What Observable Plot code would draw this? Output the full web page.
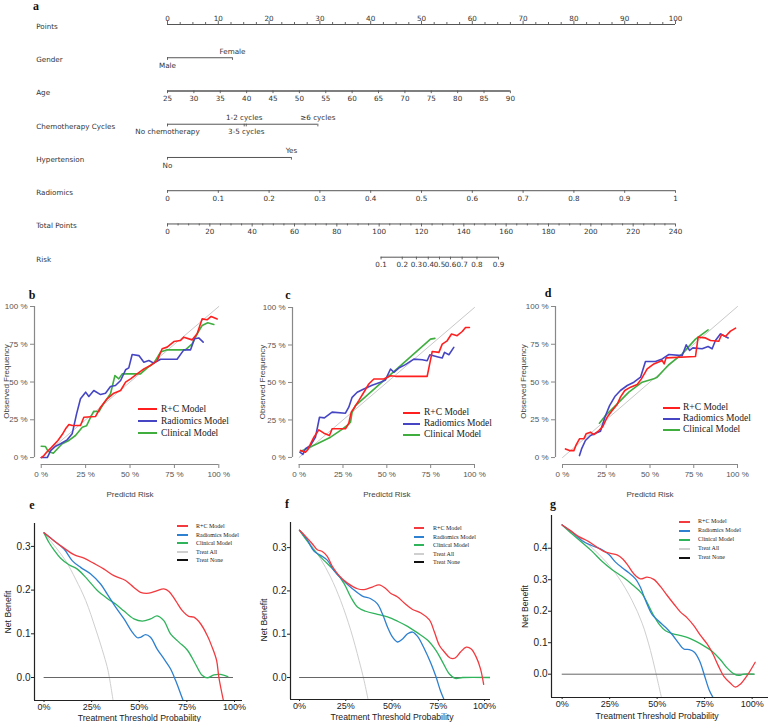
<!DOCTYPE html>
<html><head><meta charset="utf-8">
<script src="https://cdn.jsdelivr.net/npm/d3@7"></script>
<script src="https://cdn.jsdelivr.net/npm/@observablehq/plot@0.6"></script>
<style>
body{margin:0;background:#fff;}
#wrap{position:relative;width:769px;height:722px;overflow:hidden;background:#fff;}
.panel{position:absolute;}
.letter{position:absolute;font-family:"Liberation Serif","DejaVu Serif",serif;font-weight:bold;font-size:12px;color:#111;transform:translate(-50%,-50%);line-height:1;}
.legend{position:absolute;font-family:"Liberation Serif","DejaVu Serif",serif;color:#222;z-index:5;}
.legend .row{display:flex;align-items:center;white-space:nowrap;}
.legend .sw{display:inline-block;flex:none;}
</style></head>
<body><div id="wrap"></div>
<script>
// ================= DATA =================
// ---- Nomogram (panel a) ----
const rowNames = ["Points","Gender","Age","Chemotherapy Cycles","Hypertension","Radiomics","Total Points","Risk"];
const pointsMajor = [0,10,20,30,40,50,60,70,80,90,100];
const genderLevels = ["Male","Female"];
const genderPoints = [0, 12.8];
const ageTicks = [25,30,35,40,45,50,55,60,65,70,75,80,85,90];
const ageMaxPoints = 67.5;
const chemoLevels = ["No chemotherapy","1-2 cycles","3-5 cycles","\u22656 cycles"];
const chemoPoints = [0, 15.1, 15.5, 29.6];
const hyperLevels = ["No","Yes"];
const hyperPoints = [0, 24.4];
const radiomicsTicks = [0,0.1,0.2,0.3,0.4,0.5,0.6,0.7,0.8,0.9,1];
const radiomicsMaxPoints = 100;
const totalTicks = [0,20,40,60,80,100,120,140,160,180,200,220,240];
const totalMax = 240;
const riskLevels = [0.1,0.2,0.3,0.4,0.5,0.6,0.7,0.8,0.9];
const riskTotalPoints = [100.9,110.9,117.6,123.2,128.5,133.7,139.2,146.2,156.4];

// ---- Calibration curves (predicted %, observed %) ----
const calDiagonal = [[0,0],[100,100]];
const calB_RC = [[0,0],[1.5,1.3],[3,3.5],[4.9,5.7],[7.1,8.4],[9.4,11.3],[11.8,15.2],[13.7,19],[15.6,21.9],[17.4,21.2],[22.1,21.2],[24,26.7],[30.6,27.2],[33.4,33.3],[37.1,38.9],[40.9,42.6],[44.7,44.4],[47.5,49.9],[50.3,52.1],[54,55.4],[57.8,58.7],[61.5,60.9],[65.3,64.2],[68.1,72],[70.9,73.1],[74.7,76.8],[78.4,77.5],[80.3,79.7],[85,77.9],[87.8,81.9],[90.6,91.8],[93.4,91.2],[95.7,93.4],[99.1,91.8]];
const calB_Rad = [[0,0],[3.4,0],[5.3,4.6],[8.1,7.5],[10.9,9.1],[14.6,11.7],[17.4,15.7],[19.9,28.9],[22.1,38.9],[25,43.3],[26.8,40.4],[29.6,44.4],[33.4,41.7],[36.2,42.6],[39,47],[41.8,47.7],[44.7,51],[47.5,58.1],[49.3,59.4],[51.2,68.2],[55,67.5],[57.8,63.1],[60.6,64.2],[63.4,62.5],[67.2,65.1],[76.5,65.1],[80.3,71.3],[84.1,71.3],[86.3,78.6],[88.7,79.2],[91.2,76.4]];
const calB_Clin = [[0,7.5],[2.4,7.3],[3.8,4.2],[6.8,2.9],[9,5.7],[11.8,9.1],[15.6,11.3],[19.3,14.6],[23.1,20.1],[25.5,21],[27.8,26.7],[29.6,30.7],[32.5,30.5],[35.3,36],[39,42.2],[41.5,54.3],[43.7,52.1],[45.6,55.4],[55.9,55.4],[59.7,59.4],[63.4,62.5],[67.2,69.8],[70.9,71.3],[81.2,71.3],[85,75.3],[87.8,81.9],[90.6,87.4],[93.8,89.2],[97.2,88.1]];

const calC_RC = [[0.8,4.7],[3.6,3.5],[4.9,5.1],[6.5,9.1],[8.4,13.5],[11.2,18.4],[14.1,16.2],[17.3,14.6],[18.8,19.1],[26.4,19.1],[28.3,22.8],[29.7,30.2],[31.6,33.5],[34,37.9],[36.9,43.5],[39.7,49],[42.6,52.3],[48.3,52.3],[52.1,54.5],[54.9,54.1],[73,54.1],[75.9,70.7],[79.7,70.1],[81.6,75.6],[84.4,77.8],[86.9,82.3],[90.1,81.2],[93,84],[94.9,86.7],[97.1,86.7]];
const calC_Rad = [[0.4,3.5],[2.1,2],[3.6,5.8],[6.5,8],[9.3,13.5],[11.6,26.8],[14.4,26.4],[18.8,30.2],[26.4,29.5],[28.3,33.5],[30.2,40.1],[33.1,43.5],[36.9,45.7],[41.6,48.1],[46.4,50.1],[49.2,51.7],[52.1,59],[54,56.8],[56.8,59.6],[60.6,61.9],[65.4,65.6],[70.2,65.2],[73,64.5],[74.5,68.5],[78.7,67.2],[81.6,66.3],[82.9,70.1],[85.4,68.5],[88.2,73.4]];
const calC_Clin = [[1.1,4.2],[10.3,9.1],[17.9,13.5],[23.6,18],[27.4,21.3],[29.3,23.5],[30.2,30.2],[32.1,34.6],[74.9,78.9],[77.4,79.4]];

const calD_RC = [[1.7,5.7],[4,4.6],[6.5,4.6],[7.8,8.4],[9.7,12.4],[12.2,12.4],[13.5,15.7],[16,16.8],[17.9,15.2],[20.8,17.9],[23,20.5],[25.5,26.7],[28.4,31.1],[31.2,35.1],[33.1,40],[35.6,44.4],[38.9,46.6],[42.7,48.3],[45.1,52.1],[48.4,58.7],[52.2,62],[57,64.2],[58.1,62],[59.2,66],[76,66.9],[77.5,79.7],[81.7,79.2],[84.6,77.5],[89.3,77],[90.9,81.5],[93.1,80.1],[96,83.7],[98.9,85.7]];
const calD_Rad = [[9.7,1.3],[10.9,5.7],[13.1,11.3],[16,14.6],[18.9,16.1],[21.7,17.4],[22.7,21.2],[24.6,27.8],[26.9,34.4],[29.9,40.4],[33.1,44.4],[37,47.7],[40.8,49.9],[44.6,53.2],[47.4,63.6],[53.1,63.6],[57,65.3],[60.8,68.2],[68.4,67.5],[70.7,74.6],[72.6,70.9],[74.5,72.6],[79.8,72],[83.2,73.5],[85.5,72],[87.4,77.5],[90.3,81.9],[94.7,79.2]];
const calD_Clin = [[21.1,22.7],[24.6,27.8],[30.3,34.4],[37.9,43.3],[45.5,49.9],[52.2,52.1],[54.1,53.2],[60.8,61.6],[68.4,68.7],[76,78.4],[83.2,84.5]];

const pctTicks = [0,25,50,75,100];

// ---- Decision curves (threshold %, net benefit) ----
const dcaE_RC = [[0,.331],[5.2,.313],[10.5,.296],[15.7,.281],[21,.273],[26.2,.261],[31.5,.248],[36.7,.233],[42.8,.222],[47.2,.206],[50.7,.195],[55.1,.193],[59.4,.199],[62.9,.203],[65.6,.197],[69.1,.176],[72.6,.153],[76,.140],[78.7,.138],[82.2,.123],[85.7,.096],[88.3,.069],[90.6,.039],[91.8,0],[94.1,-.051]];
const dcaE_Rad = [[0,.331],[5.2,.313],[10.5,.294],[14.9,.267],[19.2,.252],[24.5,.237],[29.7,.214],[33.2,.191],[37.6,.161],[42,.134],[46.3,.104],[49,.091],[50.7,.092],[53.3,.098],[55.9,.092],[59.4,.065],[62.9,.043],[66.4,.020],[69.1,-.007],[71.7,-.037],[72.9,-.051]];
const dcaE_Clin = [[0,.331],[2.6,.309],[5.2,.292],[8.7,.273],[13.1,.258],[17.5,.248],[22.7,.225],[28,.199],[33.2,.181],[37.6,.168],[42,.152],[47.2,.134],[51.6,.129],[55.9,.134],[59.4,.141],[62.9,.130],[66.4,.100],[70.8,.081],[75.2,.063],[79.5,.031],[83,.005],[85.7,-.001],[89.2,.006],[92.7,.007],[96.5,.002]];
const dcaE_All = [[0,.331],[6.1,.298],[11.4,.267],[16.6,.225],[21.9,.176],[27.1,.111],[31.5,.050],[33.6,.016],[36.2,-.051]];
const dcaE_None = [[0,0],[99,0]];

const dcaF_RC = [[0,.340],[3.3,.326],[6.9,.309],[9.6,.295],[12.3,.291],[15,.280],[17.7,.257],[21.3,.236],[25.9,.218],[31.3,.205],[34.9,.203],[39.4,.209],[43,.214],[46.7,.205],[49.4,.194],[53,.186],[56.6,.172],[61.1,.157],[65.6,.149],[70.2,.133],[72.9,.105],[75.6,.074],[78.3,.059],[81.4,.045],[84.1,.045],[87,.059],[90.1,.070],[92.8,.066],[95.5,.047],[97.8,.020],[99.5,-.016]];
const dcaF_Rad = [[0,.340],[4.2,.318],[7.8,.292],[11.4,.282],[15,.271],[18.6,.247],[23.1,.226],[28.6,.205],[34,.188],[38.5,.182],[42.1,.170],[44.8,.147],[47.6,.116],[50.3,.093],[53,.082],[55.7,.089],[58.4,.101],[61.1,.105],[63.8,.095],[67.5,.066],[71.1,.032],[73.8,.001],[76.1,-.030],[77.9,-.049]];
const dcaF_Clin = [[0,.340],[4.2,.315],[8.7,.290],[14.1,.267],[19.5,.244],[24.1,.217],[27.7,.186],[31.3,.163],[35.8,.153],[42.1,.146],[47.6,.140],[53,.130],[58.4,.118],[63.8,.103],[69.3,.086],[73.8,.062],[77.4,.035],[81,.008],[84.1,-.002],[88.2,0],[103,0]];
const dcaF_All = [[0,.340],[6,.309],[11.4,.274],[16.8,.232],[22.2,.178],[27.7,.109],[32.2,.039],[34.9,-.007],[37.1,-.052]];
const dcaF_None = [[0,0],[103,0]];

const dcaG_RC = [[0,.474],[4.4,.456],[8.8,.437],[14,.421],[18.4,.403],[21.9,.390],[25.4,.384],[28.9,.379],[31.9,.366],[34.7,.345],[37.7,.319],[41.2,.303],[44.7,.308],[48.2,.301],[51.8,.278],[55.3,.250],[58.8,.223],[62.3,.197],[65.8,.179],[69.3,.154],[72.8,.123],[76.3,.096],[79.3,.065],[82.1,.028],[85.1,-.007],[88.6,-.029],[91.2,-.041],[93.9,-.031],[97.4,-.004],[101.6,.038]];
const dcaG_Rad = [[0,.474],[5.3,.451],[10.5,.424],[15.8,.408],[21.1,.395],[24.6,.380],[28.1,.356],[31.6,.338],[35.1,.322],[38.6,.303],[41.2,.276],[43.9,.234],[47.4,.189],[50.9,.168],[54.4,.149],[57.9,.126],[61.4,.098],[64,.080],[67,.078],[69.6,.070],[72.3,.043],[74.9,-.004],[77.5,-.052],[79.8,-.078]];
const dcaG_Clin = [[0,.474],[5.3,.445],[10.5,.418],[15.8,.390],[21.1,.358],[26.3,.332],[31.6,.310],[36.8,.285],[42.1,.255],[47.4,.195],[50.9,.160],[54.4,.138],[57.9,.129],[61.4,.124],[65.8,.117],[70.2,.105],[74.6,.090],[78.9,.073],[83.3,.046],[86.8,.020],[90.4,.001],[93,-.004],[95.6,0],[101,0]];
const dcaG_All = [[0,.474],[8.8,.435],[15.8,.401],[22.8,.359],[29.8,.306],[36.8,.234],[42.1,.162],[46.5,.075],[49.1,.010],[52.3,-.075]];
const dcaG_None = [[0,0],[101,0]];

const calLegendLabels = ["R+C Model","Radiomics Model","Clinical Model"];
const dcaLegendLabels = ["R+C Model","Radiomics Model","Clinical Model","Treat All","Treat None"];

// ================= STYLE =================
const calColors = ["#ff1f1f","#4646c4","#3fae3f"];
const dcaColors = ["#f23a3f","#2e80d0","#2fb35b","#cfcfcf","#111111"];

const wrap = document.getElementById("wrap");
function place(node, left, top) {
  const d = document.createElement("div");
  d.className = "panel"; d.style.left = left + "px"; d.style.top = top + "px";
  d.appendChild(node); wrap.appendChild(d);
}
function letter(t, x, y) {
  const d = document.createElement("div");
  d.className = "letter"; d.textContent = t;
  d.style.left = x + "px"; d.style.top = y + "px";
  wrap.appendChild(d);
}
function legend(left, firstCenter, rowH, swW, gap, fontSize, thick, labels, colors) {
  const div = document.createElement("div");
  div.className = "legend";
  div.style.left = left + "px";
  div.style.top = Math.round(firstCenter - rowH / 2) + "px";
  div.style.fontSize = fontSize + "px";
  labels.forEach((lab, i) => {
    const row = document.createElement("div");
    row.className = "row";
    row.style.height = rowH + "px"; row.style.lineHeight = rowH + "px";
    const sw = document.createElement("span");
    sw.className = "sw";
    sw.style.width = swW + "px";
    sw.style.height = thick + "px";
    sw.style.backgroundColor = colors[i];
    sw.style.marginRight = gap + "px";
    const tx = document.createElement("span");
    tx.textContent = lab;
    row.appendChild(sw); row.appendChild(tx);
    div.appendChild(row);
  });
  wrap.appendChild(div);
}
const X = d => d[0], Y = d => d[1];

// ================= PANEL a: nomogram =================
const ageToPts = d3.scaleLinear().domain([ageTicks[0], ageTicks[ageTicks.length - 1]]).range([0, ageMaxPoints]);
const radToPts = d3.scaleLinear().domain([0, 1]).range([0, radiomicsMaxPoints]);
const totToPts = d3.scaleLinear().domain([0, totalMax]).range([0, 100]);

const nLines = [], nTicks = [], nAbove = [], nBelow = [];
nLines.push({row: 0, p1: 0, p2: 100});
d3.range(0, 100.001, 2.5).forEach(p => nTicks.push({row: 0, p, len: (p % 10 === 0) ? -0.1 : -0.06}));
pointsMajor.forEach(p => nAbove.push({row: 0, p, text: String(p)}));
nLines.push({row: 1, p1: genderPoints[0], p2: genderPoints[1]});
genderLevels.forEach((g, i) => { nTicks.push({row: 1, p: genderPoints[i], len: 0.08}); (i === 1 ? nAbove : nBelow).push({row: 1, p: genderPoints[i], text: g}); });
nLines.push({row: 2, p1: 0, p2: ageMaxPoints, w: 1.6});
ageTicks.forEach(a => { nTicks.push({row: 2, p: ageToPts(a), len: 0.08}); nBelow.push({row: 2, p: ageToPts(a), text: String(a)}); });
nLines.push({row: 3, p1: 0, p2: chemoPoints[chemoPoints.length - 1]});
chemoLevels.forEach((c, i) => { nTicks.push({row: 3, p: chemoPoints[i], len: 0.08}); (i % 2 === 1 ? nAbove : nBelow).push({row: 3, p: chemoPoints[i], text: c}); });
nLines.push({row: 4, p1: hyperPoints[0], p2: hyperPoints[1]});
hyperLevels.forEach((h, i) => { nTicks.push({row: 4, p: hyperPoints[i], len: 0.08}); (i === 1 ? nAbove : nBelow).push({row: 4, p: hyperPoints[i], text: h}); });
nLines.push({row: 5, p1: 0, p2: radiomicsMaxPoints});
radiomicsTicks.forEach(r => { nTicks.push({row: 5, p: radToPts(r), len: 0.08}); nBelow.push({row: 5, p: radToPts(r), text: (r === 0 || r === 1) ? String(r) : r.toFixed(1)}); });
nLines.push({row: 6, p1: 0, p2: 100});
d3.range(0, totalMax + 0.01, 5).forEach(t => nTicks.push({row: 6, p: totToPts(t), len: (t % 20 === 0) ? 0.09 : 0.06}));
totalTicks.forEach(t => nBelow.push({row: 6, p: totToPts(t), text: String(t)}));
nLines.push({row: 7, p1: totToPts(riskTotalPoints[0]), p2: totToPts(riskTotalPoints[riskTotalPoints.length - 1])});
riskLevels.forEach((r, i) => { nTicks.push({row: 7, p: totToPts(riskTotalPoints[i]), len: 0.08}); nBelow.push({row: 7, p: totToPts(riskTotalPoints[i]), text: r.toFixed(1)}); });

const nomo = Plot.plot({
  width: 769, height: 272,
  marginLeft: 167, marginRight: 94, marginTop: 24, marginBottom: 15.3,
  style: {fontFamily: "DejaVu Sans, sans-serif", fontSize: "7.2px", color: "#333", background: "transparent", overflow: "visible"},
  x: {domain: [0, 100], axis: null},
  y: {domain: [0, 7], reverse: true, axis: null},
  marks: [
    Plot.ruleY(nLines, {y: "row", x1: "p1", x2: "p2", stroke: "#555", strokeWidth: d => d.w || 1}),
    Plot.ruleX(nTicks, {x: "p", y1: "row", y2: d => d.row + d.len, stroke: "#555", strokeWidth: 0.9}),
    Plot.text(nAbove, {x: "p", y: "row", text: "text", lineAnchor: "bottom", dy: -4, fill: "#333"}),
    Plot.text(nBelow, {x: "p", y: "row", text: "text", lineAnchor: "top", dy: 5, fill: "#333"}),
    Plot.text(rowNames, {y: (d, i) => i, text: d => d, frameAnchor: "left", textAnchor: "start", lineAnchor: "middle", dx: -131.3, dy: 2, fill: "#333"})
  ]
});
place(nomo, 0, 0);
letter("a", 36, 6);

// ================= Calibration panels =================
function calibPlot(o) {
  const lines = [o.rc, o.rad, o.clin];
  return Plot.plot({
    width: o.width, height: 210,
    marginLeft: o.ml, marginRight: o.mr, marginTop: o.mt, marginBottom: 36,
    style: {fontFamily: "Liberation Sans, Arial, sans-serif", fontSize: "8px", color: "#555", background: "transparent", overflow: "visible"},
    x: {domain: [o.xLo, 100]},
    y: {domain: [o.yLo, 100]},
    marks: [
      Plot.line(calDiagonal, {x: X, y: Y, stroke: "#c9c9c9", strokeWidth: 1}),
      ...[2, 1, 0].map(i => Plot.line(lines[i], {x: X, y: Y, stroke: calColors[i], strokeWidth: 1.6})),
      Plot.ruleY([o.yLo], {x1: 0, x2: 100, stroke: "#888", strokeWidth: 1.2}),
      Plot.ruleX([o.xLo], {y1: 0, y2: 100, stroke: "#888", strokeWidth: 1.2}),
      Plot.axisX({ticks: pctTicks, tickFormat: d => d + " %", tickSize: 4, tickPadding: 3, label: null, stroke: "#888"}),
      Plot.axisY({ticks: pctTicks, tickFormat: d => d + " %", tickSize: 4, tickPadding: 3, label: null, stroke: "#888"}),
      Plot.text(["Predictd Risk"], {text: d => d, x: 50, frameAnchor: "bottom", lineAnchor: "middle", textAnchor: "middle", dy: 30, fill: "#444"}),
      Plot.text(["Observed Frequency"], {text: d => d, frameAnchor: "left", textAnchor: "middle", lineAnchor: "middle", rotate: -90, dx: o.tdx, dy: -4, fill: "#444"})
    ]
  });
}
place(calibPlot({width: 250, ml: 34, mr: 31.7, mt: 16, xLo: -3.8, yLo: -4.6, tdx: -28, rc: calB_RC, rad: calB_Rad, clin: calB_Clin}), 0, 290);
place(calibPlot({width: 255, ml: 42, mr: 31, mt: 17, xLo: -3.8, yLo: -4.7, tdx: -30, rc: calC_RC, rad: calC_Rad, clin: calC_Clin}), 250, 290);
place(calibPlot({width: 264, ml: 50, mr: 32, mt: 16, xLo: -4, yLo: -4.6, tdx: -32, rc: calD_RC, rad: calD_Rad, clin: calD_Clin}), 505, 290);
letter("b", 32, 295); letter("c", 288, 295); letter("d", 548, 293);
legend(138, 409, 12, 19, 4, 9.5, 2, calLegendLabels, calColors);
legend(403, 412, 11, 17, 4, 9.5, 2, calLegendLabels, calColors);
legend(663, 407, 11, 17, 3, 9.5, 2, calLegendLabels, calColors);

// ================= Decision curve panels =================
function dcaPlot(o) {
  return Plot.plot({
    width: o.width, height: 222,
    marginLeft: o.ml, marginRight: o.mr, marginTop: o.mt, marginBottom: o.mb,
    style: {fontFamily: "Liberation Sans, Arial, sans-serif", fontSize: "10px", color: "#222", background: "transparent", overflow: "visible"},
    x: {domain: o.xDomain},
    y: {domain: o.yDomain},
    marks: [
      Plot.line(o.all, {x: X, y: Y, stroke: dcaColors[3], strokeWidth: 1, curve: "catmull-rom", clip: true}),
      Plot.line(o.none, {x: X, y: Y, stroke: "#666", strokeWidth: 1, clip: true}),
      Plot.line(o.clin, {x: X, y: Y, stroke: dcaColors[2], strokeWidth: 1.3, curve: "catmull-rom", clip: true}),
      Plot.line(o.rad, {x: X, y: Y, stroke: dcaColors[1], strokeWidth: 1.3, curve: "catmull-rom", clip: true}),
      Plot.line(o.rc, {x: X, y: Y, stroke: dcaColors[0], strokeWidth: 1.3, curve: "catmull-rom", clip: true}),
      Plot.ruleX([o.xDomain[0]], {stroke: "#222", strokeWidth: 1.2}),
      Plot.ruleY([o.yDomain[0]], {stroke: "#222", strokeWidth: 1.2}),
      Plot.axisX({ticks: pctTicks, tickFormat: d => d + "%", tickSize: 2, tickPadding: 1, fontSize: 9, label: null, stroke: "#222"}),
      Plot.axisY({ticks: o.yTicks, tickFormat: d3.format(".1f"), tickSize: 3, tickPadding: 1, label: null, stroke: "#222"}),
      Plot.text(["Treatment Threshold Probability"], {text: d => d, x: 50, frameAnchor: "bottom", lineAnchor: "middle", textAnchor: "middle", dy: o.tdy, fontSize: 8.7, fill: "#222"}),
      Plot.text(["Net Benefit"], {text: d => d, frameAnchor: "left", textAnchor: "middle", lineAnchor: "middle", rotate: -90, dx: o.ndx, dy: o.ndy, fontSize: 8.7, fill: "#222"})
    ]
  });
}
place(dcaPlot({width: 250, ml: 34, mr: 8, mt: 23, mb: 22, xDomain: [-5, 104.2], yDomain: [-0.0526, 0.3524], yTicks: [0, 0.1, 0.2, 0.3], tdy: 17.5, ndx: -26, ndy: 0,
  rc: dcaE_RC, rad: dcaE_Rad, clin: dcaE_Clin, all: dcaE_All, none: dcaE_None}), 0, 500);
place(dcaPlot({width: 255, ml: 40, mr: 15, mt: 22, mb: 23, xDomain: [-4.86, 103.2], yDomain: [-0.0508, 0.358], yTicks: [0, 0.1, 0.2, 0.3], tdy: 18, ndx: -26, ndy: 9,
  rc: dcaF_RC, rad: dcaF_Rad, clin: dcaF_Clin, all: dcaF_All, none: dcaF_None}), 250, 500);
place(dcaPlot({width: 264, ml: 46, mr: 1, mt: 15, mb: 25, xDomain: [-5.6, 108.6], yDomain: [-0.074, 0.504], yTicks: [0, 0.1, 0.2, 0.3, 0.4], tdy: 18.5, ndx: -26, ndy: 0,
  rc: dcaG_RC, rad: dcaG_Rad, clin: dcaG_Clin, all: dcaG_All, none: dcaG_None}), 505, 500);
letter("e", 32, 505); letter("f", 287, 504); letter("g", 553, 504);
legend(177, 526, 8.5, 11, 8, 6, 2, dcaLegendLabels, dcaColors);
legend(414, 528, 8.5, 10, 9, 6, 2, dcaLegendLabels, dcaColors);
legend(679, 521, 9, 11, 8, 6, 2, dcaLegendLabels, dcaColors);
</script>
</body></html>
